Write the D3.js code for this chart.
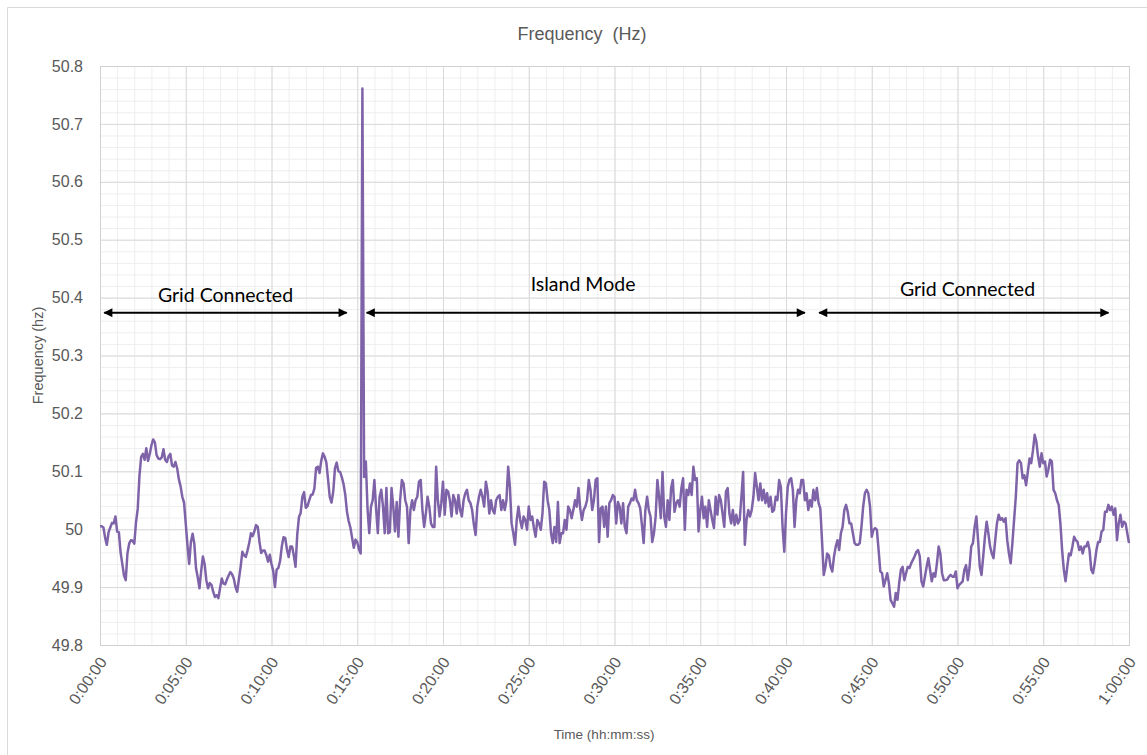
<!DOCTYPE html>
<html lang=en>
<head>
	<meta charset="utf-8">
	<title>Frequency (Hz)</title>
	<script src="https://cdn.jsdelivr.net/npm/d3@7"></script>
	<style>
		body { margin: 0; background: #fff; }
		text { font-family: "Liberation Sans", Arial, sans-serif; }
	</style>
</head>
<body>
	<script type="text/javascript">
	// one sample every 6 seconds, 0:00:00 .. 1:00:00
	var stepSeconds = 6;
	var freq = [
		50.005, 50.005, 50.003, 49.985, 49.973, 49.995, 50.003, 50.011, 50.010, 50.022,
		49.996, 49.995, 49.960, 49.940, 49.920, 49.912, 49.958, 49.975, 49.981, 49.980,
		49.975, 50.012, 50.035, 50.092, 50.125, 50.130, 50.120, 50.140, 50.118, 50.130,
		50.145, 50.155, 50.150, 50.128, 50.122, 50.121, 50.124, 50.138, 50.120, 50.116,
		50.126, 50.130, 50.110, 50.108, 50.116, 50.105, 50.086, 50.074, 50.056, 50.046,
		50.010, 49.972, 49.940, 49.978, 49.992, 49.975, 49.932, 49.917, 49.898, 49.928,
		49.953, 49.940, 49.912, 49.898, 49.907, 49.904, 49.892, 49.883, 49.886, 49.881,
		49.898, 49.915, 49.906, 49.905, 49.913, 49.920, 49.926, 49.922, 49.915, 49.900,
		49.892, 49.914, 49.935, 49.961, 49.955, 49.952, 49.963, 49.976, 49.993, 49.988,
		49.996, 50.007, 50.004, 49.978, 49.959, 49.963, 49.963, 49.955, 49.944, 49.956,
		49.940, 49.928, 49.900, 49.930, 49.933, 49.945, 49.970, 49.986, 49.985, 49.965,
		49.952, 49.970, 49.970, 49.955, 49.935, 49.990, 50.021, 50.028, 50.056, 50.064,
		50.037, 50.040, 50.050, 50.059, 50.060, 50.070, 50.106, 50.108, 50.097, 50.118,
		50.131, 50.125, 50.115, 50.085, 50.055, 50.046, 50.065, 50.105, 50.115, 50.100,
		50.099, 50.090, 50.078, 50.060, 50.030, 50.014, 50.003, 49.985, 49.968, 49.982,
		49.978, 49.965, 49.958, 50.761, 50.090, 50.117, 50.035, 49.993, 50.039, 50.050,
		50.085, 50.035, 49.993, 50.055, 50.068, 50.040, 49.993, 50.071, 49.993, 49.995,
		50.071, 50.039, 49.996, 50.047, 49.987, 50.050, 50.085, 50.079, 50.050, 50.039,
		49.976, 50.033, 50.050, 50.033, 50.050, 50.056, 50.082, 50.085, 50.033, 50.004,
		50.027, 50.056, 50.039, 50.010, 50.004, 50.004, 50.108, 50.050, 50.022, 50.045,
		50.082, 50.025, 50.068, 50.065, 50.050, 50.022, 50.059, 50.050, 50.027, 50.059,
		50.033, 50.022, 50.050, 50.062, 50.068, 50.050, 50.045, 50.033, 50.008, 49.990,
		50.039, 50.056, 50.068, 50.056, 50.039, 50.082, 50.065, 50.027, 50.050, 50.033,
		50.027, 50.050, 50.056, 50.059, 50.033, 50.050, 50.033, 50.050, 50.108, 50.073,
		50.010, 49.993, 49.973, 50.016, 50.039, 50.016, 50.002, 50.022, 50.016, 49.999,
		50.039, 50.016, 50.022, 50.002, 49.987, 50.016, 50.010, 49.999, 50.027, 50.082,
		50.079, 50.050, 50.033, 49.993, 49.976, 50.004, 49.978, 50.047, 49.976, 49.993,
		49.993, 50.016, 49.999, 50.039, 50.033, 50.019, 50.033, 50.050, 50.039, 50.071,
		50.036, 50.016, 50.033, 50.039, 50.050, 50.085, 50.068, 50.033, 50.050, 50.085,
		50.088, 49.978, 50.036, 50.039, 50.004, 50.039, 49.987, 50.045, 50.050, 50.059,
		50.056, 50.010, 50.047, 50.039, 50.010, 50.045, 50.004, 49.993, 50.039, 50.045,
		50.053, 50.050, 50.068, 50.050, 50.045, 50.036, 50.007, 49.976, 50.033, 50.056,
		50.033, 50.022, 49.978, 49.993, 50.022, 50.085, 50.056, 50.019, 50.099, 50.022,
		50.004, 50.050, 50.016, 50.071, 50.085, 50.030, 50.045, 50.050, 50.039, 50.071,
		50.088, 49.999, 50.068, 50.059, 50.079, 50.059, 50.108, 50.085, 50.088, 49.996,
		50.033, 50.056, 50.019, 50.039, 50.004, 50.050, 50.033, 50.016, 50.002, 50.056,
		50.025, 50.059, 50.050, 50.027, 50.004, 50.065, 50.071, 50.027, 50.010, 50.033,
		50.007, 50.025, 50.010, 50.016, 50.056, 50.099, 49.973, 50.016, 50.033, 50.022,
		50.033, 50.056, 50.097, 50.073, 50.050, 50.079, 50.050, 50.068, 50.045, 50.062,
		50.039, 50.056, 50.030, 50.033, 50.056, 50.050, 50.085, 50.073, 50.004, 49.961,
		50.027, 50.073, 50.085, 50.088, 50.068, 50.004, 50.050, 50.068, 50.062, 50.085,
		50.085, 50.050, 50.062, 50.033, 50.050, 50.039, 50.068, 50.050, 50.071, 50.045,
		50.036, 49.981, 49.921, 49.935, 49.958, 49.955, 49.935, 49.927, 49.953, 49.970,
		49.981, 49.964, 49.993, 50.004, 50.033, 50.042, 50.030, 50.010, 50.010, 49.993,
		49.976, 49.973, 49.973, 49.976, 50.004, 50.039, 50.062, 50.068, 50.062, 50.039,
		49.987, 49.999, 50.002, 49.999, 49.964, 49.927, 49.924, 49.901, 49.912, 49.924,
		49.907, 49.878, 49.872, 49.866, 49.890, 49.878, 49.907, 49.930, 49.935, 49.912,
		49.924, 49.935, 49.933, 49.941, 49.947, 49.953, 49.961, 49.964, 49.953, 49.910,
		49.901, 49.918, 49.935, 49.950, 49.930, 49.910, 49.924, 49.918, 49.941, 49.970,
		49.958, 49.924, 49.912, 49.912, 49.913, 49.918, 49.921, 49.918, 49.918, 49.927,
		49.898, 49.904, 49.907, 49.910, 49.930, 49.938, 49.912, 49.933, 49.970, 49.976,
		50.004, 50.022, 49.981, 49.935, 49.921, 49.953, 49.987, 50.013, 49.993, 49.970,
		49.958, 49.950, 49.981, 50.010, 50.025, 50.016, 50.019, 50.013, 50.019, 49.981,
		49.958, 49.941, 49.976, 50.016, 50.056, 50.114, 50.119, 50.114, 50.088, 50.093,
		50.076, 50.099, 50.122, 50.114, 50.136, 50.163, 50.151, 50.125, 50.108, 50.131,
		50.114, 50.117, 50.091, 50.103, 50.120, 50.117, 50.068, 50.062, 50.050, 50.042,
		50.010, 49.964, 49.930, 49.910, 49.935, 49.958, 49.955, 49.970, 49.987, 49.981,
		49.978, 49.964, 49.970, 49.958, 49.970, 49.970, 49.978, 49.964, 49.930, 49.924,
		49.941, 49.964, 49.978, 49.978, 49.996, 49.999, 50.030, 50.030, 50.042, 50.033,
		50.039, 50.025, 50.036, 49.981, 50.010, 50.025, 50.004, 50.013, 50.010, 49.993,
		49.976
	];

	var xTickSeconds = [0, 300, 600, 900, 1200, 1500, 1800, 2100, 2400, 2700, 3000, 3300, 3600];
	var xTickLabels = ["0:00:00", "0:05:00", "0:10:00", "0:15:00", "0:20:00", "0:25:00", "0:30:00",
		"0:35:00", "0:40:00", "0:45:00", "0:50:00", "0:55:00", "1:00:00"];
	var yTicks = [49.8, 49.9, 50, 50.1, 50.2, 50.3, 50.4, 50.5, 50.6, 50.7, 50.8];
	var yTickLabels = ["49.8", "49.9", "50", "50.1", "50.2", "50.3", "50.4", "50.5", "50.6", "50.7", "50.8"];

	// annotations: arrows [start s, end s] at a frequency, label centred at [s, frequency]
	var modeNames = ["Grid Connected", "Island Mode", "Grid Connected"];
	var modeArrowStart = [15, 933, 2516];
	var modeArrowEnd = [863, 2466, 3528];
	var modeArrowFreq = [50.374, 50.374, 50.374];
	var modeLabelAt = [439, 1690, 3035];
	var modeLabelFreq = [50.392, 50.411, 50.403];

	var W = 1147, H = 755;
	var pLeft = 100, pRight = 1129, pTop = 66, pBottom = 645;

	var svg = d3.select('body')
				.append('svg')
				.attr('width', W)
				.attr('height', H);

	// chart area frame
	svg.append('path')
		.attr('d', 'M7.5,' + H + 'V7.5H' + W)
		.attr('fill', 'none')
		.attr('stroke', '#d9d9d9');

	var x = d3.scaleLinear().domain([0, 3600]).range([pLeft, pRight]);
	var y = d3.scaleLinear().domain([49.8, 50.8]).range([pBottom, pTop]);

	function gridLines(g, color){
		g.select('.domain').remove();
		g.selectAll('line').attr('stroke', color);
	}

	// minor grid
	svg.append('g')
		.attr('transform', 'translate(0,' + pBottom + ')')
		.call(d3.axisBottom(x).tickValues(d3.range(0, 3601, 60)).tickSize(-(pBottom - pTop)).tickFormat(''))
		.call(gridLines, '#eeeeee');
	svg.append('g')
		.attr('transform', 'translate(' + pLeft + ',0)')
		.call(d3.axisLeft(y).tickValues(d3.range(0, 51).map(function(i){ return 49.8 + i * 0.02; }))
			.tickSize(-(pRight - pLeft)).tickFormat(''))
		.call(gridLines, '#eeeeee');

	// major grid
	svg.append('g')
		.attr('transform', 'translate(0,' + pBottom + ')')
		.call(d3.axisBottom(x).tickValues(xTickSeconds).tickSize(-(pBottom - pTop)).tickFormat(''))
		.call(gridLines, '#d9d9d9');
	svg.append('g')
		.attr('transform', 'translate(' + pLeft + ',0)')
		.call(d3.axisLeft(y).tickValues(yTicks).tickSize(-(pRight - pLeft)).tickFormat(''))
		.call(gridLines, '#d9d9d9');

	svg.append('rect')
		.attr('x', pLeft + 0.5)
		.attr('y', pTop + 0.5)
		.attr('width', pRight - pLeft)
		.attr('height', pBottom - pTop)
		.attr('fill', 'none')
		.attr('stroke', '#d0d0d0');

	// axis labels
	var xAxis = svg.append('g')
		.attr('transform', 'translate(0,' + pBottom + ')')
		.call(d3.axisBottom(x).tickValues(xTickSeconds).tickSize(0)
			.tickFormat(function(d, i){ return xTickLabels[i]; }));
	xAxis.select('.domain').remove();
	xAxis.selectAll('text')
		.attr('font-size', 16)
		.attr('fill', '#595959')
		.attr('text-anchor', 'end')
		.attr('dy', 0)
		.attr('y', 0)
		.attr('transform', 'translate(7,17) rotate(-55)');

	var yAxis = svg.append('g')
		.attr('transform', 'translate(' + pLeft + ',0)')
		.call(d3.axisLeft(y).tickValues(yTicks).tickSize(0).tickPadding(17)
			.tickFormat(function(d, i){ return yTickLabels[i]; }));
	yAxis.select('.domain').remove();
	yAxis.selectAll('text')
		.attr('font-size', 16)
		.attr('fill', '#595959');

	svg.append('text')
		.text('Frequency  (Hz)')
		.attr('x', 582)
		.attr('y', 40)
		.attr('text-anchor', 'middle')
		.attr('font-size', 18)
		.attr('fill', '#595959')
		.style('white-space', 'pre');

	svg.append('text')
		.text('Time (hh:mm:ss)')
		.attr('x', 604)
		.attr('y', 739)
		.attr('text-anchor', 'middle')
		.attr('font-size', 13.5)
		.attr('fill', '#595959');

	svg.append('text')
		.text('Frequency (hz)')
		.attr('transform', 'translate(43,' + ((pTop + pBottom) / 2) + ') rotate(-90)')
		.attr('text-anchor', 'middle')
		.attr('font-size', 14.5)
		.attr('fill', '#595959');

	// frequency line
	var line = d3.line()
		.x(function(d, i){ return x(i * stepSeconds); })
		.y(function(d){ return y(d); });

	svg.append('path')
		.datum(freq)
		.attr('d', line)
		.attr('fill', 'none')
		.attr('stroke', '#7f63a8')
		.attr('stroke-width', 2.5)
		.attr('stroke-linejoin', 'round');

	// mode annotations
	var defs = svg.append('defs');
	defs.append('marker')
		.attr('id', 'head')
		.attr('viewBox', '0 0 10 10')
		.attr('refX', 9)
		.attr('refY', 5)
		.attr('markerWidth', 5.5)
		.attr('markerHeight', 4.5)
		.attr('markerUnits', 'strokeWidth')
		.attr('orient', 'auto-start-reverse')
		.append('path')
		.attr('d', 'M0,0L10,5L0,10z')
		.attr('fill', '#000');

	modeNames.forEach(function(name, i){
		svg.append('line')
			.attr('x1', x(modeArrowStart[i]))
			.attr('x2', x(modeArrowEnd[i]))
			.attr('y1', y(modeArrowFreq[i]))
			.attr('y2', y(modeArrowFreq[i]))
			.attr('stroke', '#000')
			.attr('stroke-width', 2)
			.attr('marker-start', 'url(#head)')
			.attr('marker-end', 'url(#head)');

		svg.append('text')
			.text(name)
			.attr('x', x(modeLabelAt[i]))
			.attr('y', y(modeLabelFreq[i]))
			.attr('text-anchor', 'middle')
			.attr('font-size', 19.5)
			.style('font-family', 'Lato, "Open Sans", sans-serif')
			.attr('fill', '#000');
	});
	</script>
</body>
</html>
